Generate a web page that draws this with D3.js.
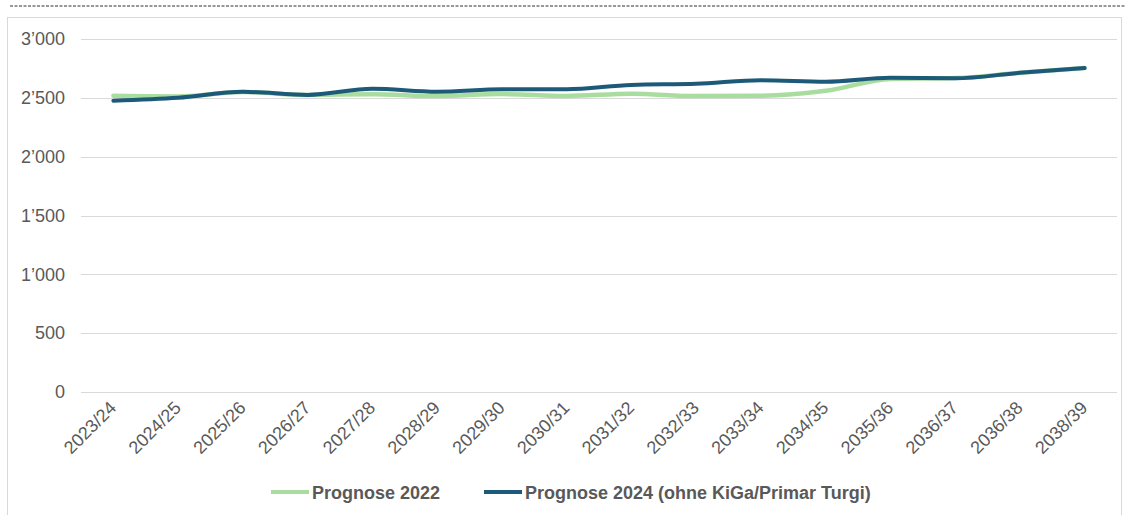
<!DOCTYPE html>
<html><head><meta charset="utf-8">
<script src="https://cdn.jsdelivr.net/npm/d3@7"></script>
<style>body{margin:0;background:#fff;}svg{display:block;font-family:"Liberation Sans",Arial,sans-serif;}</style>
</head><body><svg id="c" width="1126" height="515"></svg>
<script>
const categories = ["2023/24","2024/25","2025/26","2026/27","2027/28","2028/29","2029/30","2030/31","2031/32","2032/33","2033/34","2034/35","2035/36","2036/37","2036/38","2038/39"];
const prognose2022 = [2517,2512,2550,2525,2530,2515,2532,2516,2535,2515,2518,2560,2660,2668,2713,2753];
const prognose2024 = [2476,2500,2551,2525,2577,2552,2572,2573,2610,2619,2650,2636,2670,2666,2713,2753];
const yTicks = [0,500,1000,1500,2000,2500,3000];
const seriesNames = ["Prognose 2022","Prognose 2024 (ohne KiGa/Primar Turgi)"];
const colors = ["#a9dc9f","#1d5a7a"];

const svg = d3.select("#c");
// top dashed line
svg.append("line").attr("x1",10).attr("x2",1126).attr("y1",6).attr("y2",6)
  .attr("stroke","#333").attr("stroke-width",1.2).attr("stroke-dasharray","3,1.5");
// chart border
svg.append("rect").attr("x",7.5).attr("y",17.5).attr("width",1114).attr("height",510)
  .attr("fill","none").attr("stroke","#d9d9d9").attr("stroke-width",1);

const x = d3.scaleBand().domain(categories).range([81,1117]);
const y = d3.scaleLinear().domain([0,3000]).range([392,39]);

// gridlines
svg.append("g").selectAll("line").data(yTicks).join("line")
  .attr("x1",81).attr("x2",1117).attr("y1",d=>Math.round(y(d))+0.5).attr("y2",d=>Math.round(y(d))+0.5)
  .attr("stroke","#d9d9d9").attr("stroke-width",1);

const fmt = d => d >= 1000 ? Math.floor(d/1000) + "\u2019" + String(d%1000).padStart(3,"0") : String(d);
const yAxis = svg.append("g").attr("transform","translate(65,0)")
  .call(d3.axisLeft(y).tickValues(yTicks).tickFormat(fmt).tickSize(0).tickPadding(0));
yAxis.select(".domain").remove();
yAxis.selectAll("text").attr("fill","#595959").attr("font-size","18px").attr("font-family","Liberation Sans, Arial, sans-serif");

const xAxis = svg.append("g").attr("transform","translate(0,392)")
  .call(d3.axisBottom(x).tickSize(0).tickPadding(0));
xAxis.select(".domain").remove();
xAxis.selectAll("text").attr("fill","#595959").attr("font-size","18px").attr("font-family","Liberation Sans, Arial, sans-serif")
  .attr("text-anchor","end").attr("dy",null).attr("y",0)
  .attr("transform","translate(4,17) rotate(-45)");

const line = d3.line().x((d,i)=>x(categories[i])+x.bandwidth()/2).y(d=>y(d)).curve(d3.curveMonotoneX);
[prognose2022, prognose2024].forEach((s,k)=>{
  svg.append("path").datum(s).attr("d",line).attr("fill","none")
    .attr("stroke",colors[k]).attr("stroke-width",k===0?4.5:4).attr("stroke-linecap","round").attr("stroke-linejoin","round");
});

// legend
const leg = [{x:271,tx:312},{x:484,tx:525}];
seriesNames.forEach((n,k)=>{
  svg.append("line").attr("x1",leg[k].x).attr("x2",leg[k].x+38).attr("y1",492).attr("y2",492)
    .attr("stroke",colors[k]).attr("stroke-width",4);
  svg.append("text").attr("x",leg[k].tx).attr("y",498.5).text(n)
    .attr("fill","#595959").attr("font-size","18px").attr("font-weight","bold");
});
</script></body></html>
